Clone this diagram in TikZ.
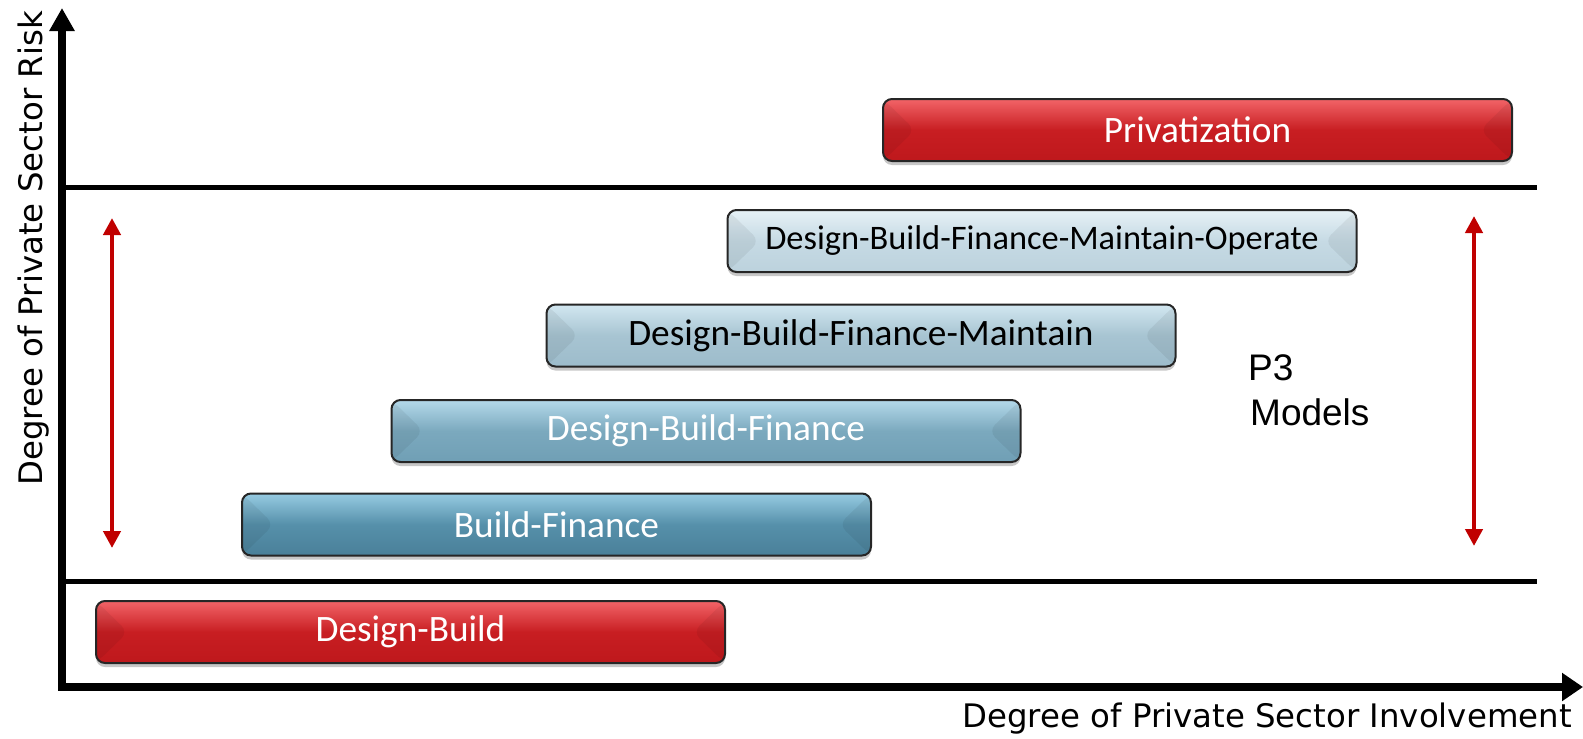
\documentclass[tikz,border=0pt]{standalone}
\usepackage{fontspec}
\newfontfamily\boxfont{Carlito}
\newfontfamily\axfont{DejaVu Sans}
\newfontfamily\pfont{Liberation Sans}
\usetikzlibrary{arrows.meta,shadows}
\definecolor{redtop}{HTML}{F26468}
\definecolor{redmid}{HTML}{C81E22}
\definecolor{redbot}{HTML}{BE181C}
\definecolor{arrowred}{HTML}{C00000}
\definecolor{bfTop}{HTML}{96CBE2}
\definecolor{bfMid}{HTML}{5690AA}
\definecolor{bfBot}{HTML}{4A8099}
\definecolor{dbfTop}{HTML}{B4D9EA}
\definecolor{dbfMid}{HTML}{7BA9BE}
\definecolor{dbfBot}{HTML}{709FB5}
\definecolor{dbfmTop}{HTML}{D2E7F0}
\definecolor{dbfmMid}{HTML}{A7C4D2}
\definecolor{dbfmBot}{HTML}{9DBCCB}
\definecolor{dbfmoTop}{HTML}{E6F1F6}
\definecolor{dbfmoMid}{HTML}{C6DAE4}
\definecolor{dbfmoBot}{HTML}{BCD2DD}
\tikzset{
  pbox/.style={rounded corners=9pt, draw=black!85, line width=2pt,
    minimum width=629pt, minimum height=62pt, inner sep=0pt,
    font=\boxfont\fontsize{37.3}{44}\selectfont,
    drop shadow={shadow xshift=0pt, shadow yshift=-4pt, opacity=.22, fill=black},
    path picture={
      \fill[black,opacity=.06] (path picture bounding box.north west) -- ([xshift=32pt]path picture bounding box.west) -- (path picture bounding box.south west) -- cycle;
      \fill[black,opacity=.06] (path picture bounding box.north east) -- ([xshift=-32pt]path picture bounding box.east) -- (path picture bounding box.south east) -- cycle;
    }},
  redbox/.style={pbox, top color=redtop, bottom color=redbot, middle color=redmid, text=white},
  bfbox/.style={pbox, top color=bfTop, bottom color=bfBot, middle color=bfMid, text=white},
  dbfbox/.style={pbox, top color=dbfTop, bottom color=dbfBot, middle color=dbfMid, text=white},
  dbfmbox/.style={pbox, top color=dbfmTop, bottom color=dbfmBot, middle color=dbfmMid, text=black},
  dbfmobox/.style={pbox, top color=dbfmoTop, bottom color=dbfmoBot, middle color=dbfmoMid, text=black,
    font=\boxfont\fontsize{34.4}{40}\selectfont},
  axisline/.style={line width=7.5pt, line join=miter},
  sepline/.style={line width=5pt},
  riskarrow/.style={draw=arrowred, line width=4.5pt,
    {Triangle[width=17pt,length=17pt]}-{Triangle[width=17pt,length=17pt]}},
  axlabel/.style={inner sep=0pt, font=\axfont\fontsize{32.4}{38}\selectfont},
  plabel/.style={inner sep=0pt, anchor=base west, font=\pfont\fontsize{37}{44}\selectfont},
}
\begin{document}
\begin{tikzpicture}[x=1pt,y=-1pt]
\useasboundingbox (0,0) rectangle (1583,739);
% axes
\coordinate (ytop) at (62,8);
\coordinate (O) at (62,687);
\coordinate (xend) at (1583,687);
\coordinate (s1a) at (62,187.5);
\coordinate (s1b) at (1537,187.5);
\coordinate (s2a) at (62,581);
\coordinate (s2b) at (1537,581);
\draw[sepline] (s1a) -- (s1b);
\draw[sepline] (s2a) -- (s2b);
\draw[axisline, {Triangle[width=24pt,length=23pt]}-{Triangle[width=27pt,length=21pt]}] (ytop) -- (O) -- (xend);
% boxes
\node[redbox] (priv) at (1197.5,130) {Privatization};
\node[dbfmobox] (dbfmo) at (1042,241) {Design-Build-Finance-Maintain-Operate};
\node[dbfmbox] (dbfm) at (861,335.5) {Design-Build-Finance-Maintain};
\node[dbfbox] (dbf) at (706,431) {Design-Build-Finance};
\node[bfbox] (bf) at (556.5,524.5) {Build-Finance};
\node[redbox] (db) at (410.5,632) {Design-Build};
% risk arrows
\coordinate (la) at (112,218);
\coordinate (lb) at (112,548);
\coordinate (ra) at (1474,216);
\coordinate (rb) at (1474,546);
\draw[riskarrow] (la) -- (lb);
\draw[riskarrow] (ra) -- (rb);
% labels
\node[plabel] (p3) at (1248,380) {P3};
\node[plabel] (models) at (1250,425) {Models};
\node[axlabel, anchor=base east] (xlab) at (1572,727) {Degree of Private Sector Involvement};
\node[axlabel, anchor=base east, rotate=90] (ylab) at (42,11) {Degree of Private Sector Risk};
\end{tikzpicture}
\end{document}
